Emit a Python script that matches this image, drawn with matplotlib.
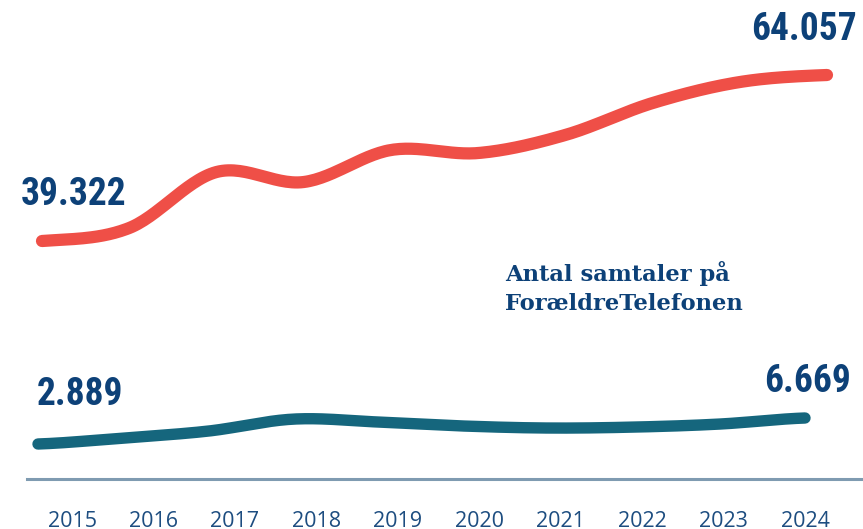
import numpy as np
import matplotlib
matplotlib.use("Agg")
import matplotlib.pyplot as plt
from matplotlib import font_manager

# data
years = ["2015", "2016", "2017", "2018", "2019", "2020", "2021", "2022", "2023", "2024"]
total_calls = [39322, 41260, 49600, 48110, 52880, 52430, 55120, 59880, 63010, 64057]
parent_calls = [2889, 3760, 4770, 6510, 6080, 5500, 5210, 5350, 5790, 6669]
parent_label = "Antal samtaler på\nForældreTelefonen"

W, H = 863, 529
RED = "#ef4f47"
TEAL = "#15667d"
NAVY = "#0d4178"
AXIS = "#7f9bb1"

# pick a narrow bold face if one is installed
names = {f.name for f in font_manager.fontManager.ttflist}
narrow = [n for n in ["Roboto Condensed", "Liberation Sans Narrow", "DejaVu Sans Condensed",
                      "Open Sans Condensed", "Noto Sans Display"] if n in names]
stretch = "condensed"
num_font = dict(family=narrow + ["DejaVu Sans"], fontweight="bold", fontstretch=stretch,
                fontsize=27, color=NAVY)


def px_axes(fig, x0, x1, ytop, ybot):
    # axes placed by pixel box (image coords, y down)
    ax = fig.add_axes([x0 / W, 1 - ybot / H, (x1 - x0) / W, (ybot - ytop) / H])
    ax.set_axis_off()
    return ax


def smooth(y, n=30):
    # catmull-rom through the points
    p = np.concatenate([[y[0]], y, [y[-1]]]).astype(float)
    xs, ys = [], []
    for i in range(1, len(p) - 2):
        t = np.linspace(0, 1, n, endpoint=False)
        p0, p1, p2, p3 = p[i - 1], p[i], p[i + 1], p[i + 2]
        ys.append(0.5 * ((2 * p1) + (-p0 + p2) * t + (2 * p0 - 5 * p1 + 4 * p2 - p3) * t ** 2
                         + (-p0 + 3 * p1 - 3 * p2 + p3) * t ** 3))
        xs.append(i - 1 + t)
    xs.append([len(y) - 1])
    ys.append([y[-1]])
    return np.concatenate(xs), np.concatenate(ys)


def fmt(v):
    return f"{v:,}".replace(",", ".")


fig = plt.figure(figsize=(W / 100, H / 100), dpi=100)

# red series
ax_r = px_axes(fig, 42, 827, 75, 241)
ax_r.set_xlim(0, len(years) - 1)
ax_r.set_ylim(total_calls[0], total_calls[-1])
sx, sy = smooth(total_calls)
ax_r.plot(sx, sy, color=RED, lw=8.8, solid_capstyle="round", clip_on=False)
ax_r.annotate(fmt(total_calls[0]), (0, total_calls[0]), xytext=(-21, 36),
              textcoords="offset pixels", ha="left", va="baseline", **num_font)
ax_r.annotate(fmt(total_calls[-1]), (len(years) - 1, total_calls[-1]), xytext=(30, 35),
              textcoords="offset pixels", ha="right", va="baseline", **num_font)

# teal series
ax_t = px_axes(fig, 38, 805, 418, 444)
ax_t.set_xlim(0, len(years) - 1)
ax_t.set_ylim(parent_calls[0], parent_calls[-1])
sx, sy = smooth(parent_calls)
ax_t.plot(sx, sy, color=TEAL, lw=8.2, solid_capstyle="round", clip_on=False)
ax_t.annotate(fmt(parent_calls[0]), (0, parent_calls[0]), xytext=(-1, 39),
              textcoords="offset pixels", ha="left", va="baseline", **num_font)
ax_t.annotate(fmt(parent_calls[-1]), (len(years) - 1, parent_calls[-1]), xytext=(46, 26),
              textcoords="offset pixels", ha="right", va="baseline", **num_font)

fig.text(505 / W, 1 - 261 / H, parent_label, ha="left", va="top",
         family="DejaVu Serif", fontweight="bold", fontsize=16.3, color=NAVY,
         linespacing=1.4)

# year axis
ax_x = px_axes(fig, 27, 863, 470, 479)
ax_x.set_axis_on()
ax_x.set_xlim(-45 / 81.4, 9 + 58 / 81.4)
ax_x.set_ylim(0, 1)
for s in ["top", "left", "right"]:
    ax_x.spines[s].set_visible(False)
ax_x.spines["bottom"].set_color(AXIS)
ax_x.spines["bottom"].set_linewidth(2.2)
ax_x.set_yticks([])
ax_x.set_xticks(range(len(years)))
ax_x.set_xticklabels(years, family="Open Sans", fontsize=15.5, color="#1d4d80")
ax_x.tick_params(axis="x", length=0, pad=23)
ax_x.patch.set_visible(False)

fig.savefig("out.png", dpi=100)
